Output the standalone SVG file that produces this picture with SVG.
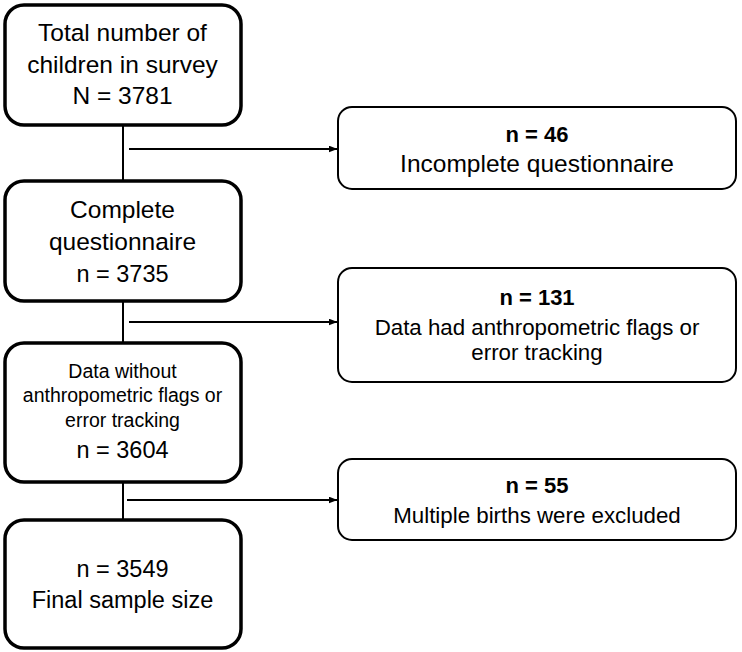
<svg xmlns="http://www.w3.org/2000/svg" width="742" height="652" viewBox="0 0 742 652">
  <defs>
    <marker id="arrow" markerWidth="9" markerHeight="7" refX="8.5" refY="3.5" orient="auto" markerUnits="userSpaceOnUse">
      <path d="M0,0 L9,3.5 L0,7 Z" fill="#000"/>
    </marker>
    <style>
      .main { fill: #fff; stroke: #000; stroke-width: 3.5; }
      .side { fill: #fff; stroke: #000; stroke-width: 2; }
      .conn { stroke: #000; stroke-width: 2; fill: none; }
      text { font-family: "Liberation Sans", Arial, sans-serif; fill: #000; text-anchor: middle; }
      .t24 { font-size: 24.5px; }
      .t23 { font-size: 23.5px; }
      .t19 { font-size: 19.5px; }
      .t22 { font-size: 22.3px; }
      .b { font-weight: bold; font-size: 22px; }
    </style>
  </defs>

  <g id="connectors">
    <line class="conn" x1="123" y1="125" x2="123" y2="181"/>
    <line class="conn" x1="123" y1="301" x2="123" y2="343"/>
    <line class="conn" x1="123" y1="482" x2="123" y2="520"/>
    <line class="conn" x1="129" y1="149" x2="337" y2="149" marker-end="url(#arrow)"/>
    <line class="conn" x1="129" y1="322" x2="337" y2="322" marker-end="url(#arrow)"/>
    <line class="conn" x1="127" y1="500" x2="337" y2="500" marker-end="url(#arrow)"/>
  </g>

  <g id="n_total">
    <rect class="main" x="5" y="5" width="236" height="120" rx="19"/>
    <text class="t24" x="122.5" y="41">Total number of</text>
    <text class="t24" x="122.5" y="73">children in survey</text>
    <text class="t24" x="122.5" y="104">N = 3781</text>
  </g>

  <g id="n_complete">
    <rect class="main" x="5" y="181" width="236" height="120" rx="19"/>
    <text class="t24" x="122.5" y="218">Complete</text>
    <text class="t24" x="122.5" y="250">questionnaire</text>
    <text class="t23" x="122.5" y="282">n = 3735</text>
  </g>

  <g id="n_noflags">
    <rect class="main" x="5" y="343" width="236" height="139" rx="19"/>
    <text class="t19" x="122.5" y="378">Data without</text>
    <text class="t19" x="122.5" y="402">anthropometric flags or</text>
    <text class="t19" x="122.5" y="427">error tracking</text>
    <text class="t23" x="122.5" y="458">n = 3604</text>
  </g>

  <g id="n_final">
    <rect class="main" x="5" y="520" width="236" height="128" rx="19"/>
    <text class="t23" x="122.5" y="577">n = 3549</text>
    <text class="t23" x="122.5" y="608">Final sample size</text>
  </g>

  <g id="ex_incomplete">
    <rect class="side" x="338" y="107" width="398" height="82" rx="14"/>
    <text class="b" x="537" y="142">n = 46</text>
    <text class="t24" x="537" y="172">Incomplete questionnaire</text>
  </g>

  <g id="ex_flags">
    <rect class="side" x="338" y="268" width="398" height="114" rx="14"/>
    <text class="b" x="537" y="305">n = 131</text>
    <text class="t22" x="537" y="335">Data had anthropometric flags or</text>
    <text class="t22" x="537" y="360">error tracking</text>
  </g>

  <g id="ex_multiple">
    <rect class="side" x="338" y="459" width="398" height="81" rx="14"/>
    <text class="b" x="537" y="493">n = 55</text>
    <text class="t22" x="537" y="523">Multiple births were excluded</text>
  </g>
</svg>
